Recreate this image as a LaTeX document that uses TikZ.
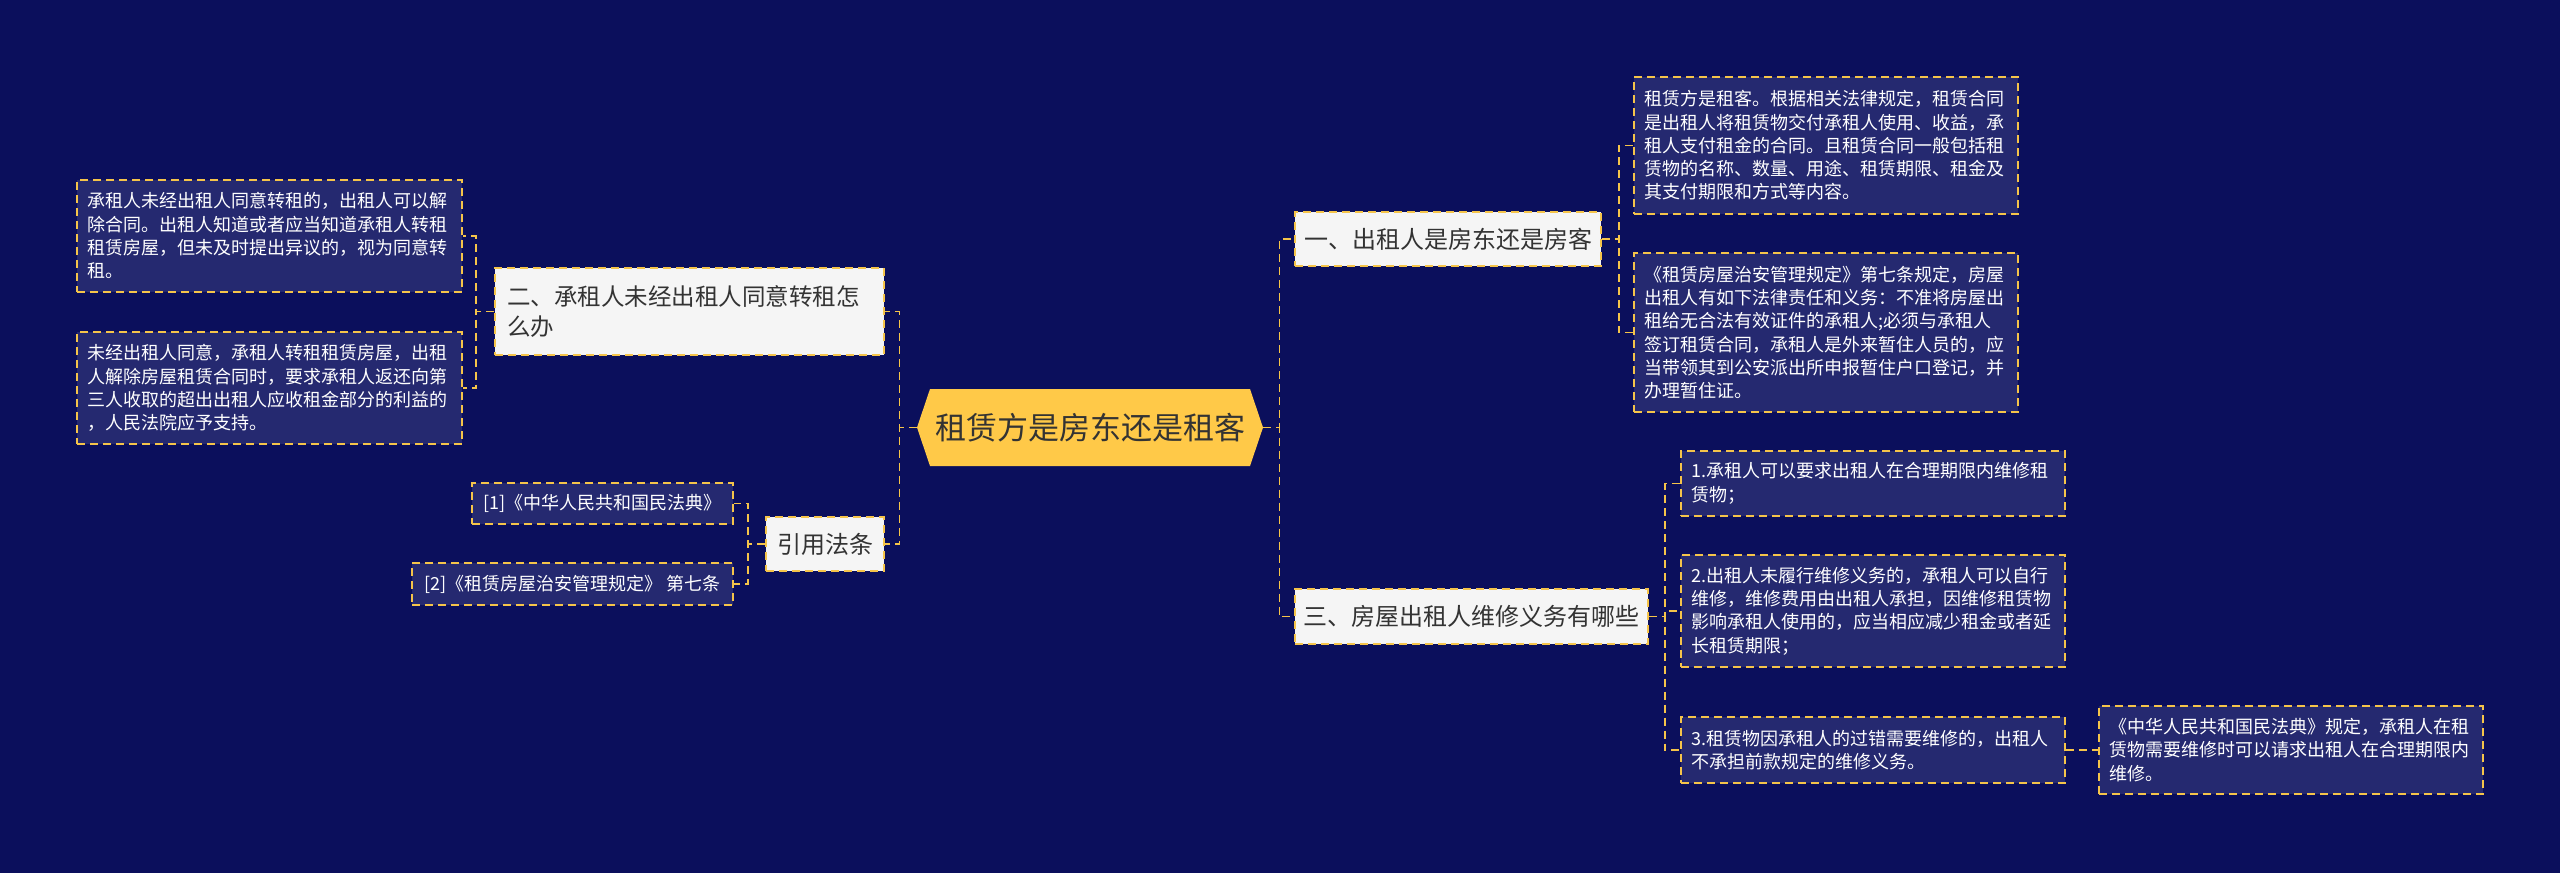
\documentclass[tikz,border=0pt]{standalone}
\usepackage{fontspec}
\setmainfont{Noto Sans CJK SC}
\definecolor{bg}{RGB}{11,15,92}
\definecolor{leaffill}{RGB}{37,41,112}
\definecolor{gold}{RGB}{245,196,74}
\definecolor{branchfill}{RGB}{245,245,245}
\definecolor{centerfill}{RGB}{255,201,72}
\definecolor{darktext}{RGB}{51,51,51}
\tikzset{
  dashline/.style={draw=gold, line width=0.8pt, dash pattern=on 4pt off 2.5pt},
  leaf/.style={dashline, fill=leaffill, text=white, font=\fontsize{9pt}{11.65pt}\selectfont, align=left, inner xsep=5pt, inner ysep=0pt},
  refbox/.style={dashline, fill=leaffill, text=white, font=\fontsize{9pt}{11.65pt}\selectfont, inner xsep=3pt, inner ysep=0pt},
  branch/.style={dashline, fill=branchfill, text=darktext, inner xsep=3pt, inner ysep=0pt},
  conn/.style={draw=gold, line width=0.8pt, dash pattern=on 4pt off 2.5pt},
}
\begin{document}
\begin{tikzpicture}[x=0.5pt,y=-0.5pt]
\useasboundingbox (0,0) rectangle (2560,873);
\fill[bg] (0,0) rectangle (2560,873);

% center
\fill[centerfill] (917,427.5) -- (930,389) -- (1250,389) -- (1263,427.5) -- (1250,466) -- (930,466) -- cycle;
\node[minimum width=173pt, minimum height=38.5pt, inner sep=0pt, text=darktext, font=\fontsize{15.5pt}{18pt}\selectfont] (c) at (1090,427.5) {租赁方是房东还是租客};

% left branch
\node[branch, inner xsep=6pt, text width=182.5pt, minimum height=43.5pt, align=left, font=\fontsize{11.75pt}{15pt}\selectfont] (L) at (689.5,311.5) {二、承租人未经出租人同意转租怎\\么办};
\node[leaf, text width=182.5pt, minimum height=56pt] (L1) at (269.5,236) {承租人未经出租人同意转租的，出租人可以解\\除合同。出租人知道或者应当知道承租人转租\\租赁房屋，但未及时提出异议的，视为同意转\\租。};
\node[leaf, text width=182.5pt, minimum height=56pt] (L2) at (269.5,388) {未经出租人同意，承租人转租租赁房屋，出租\\人解除房屋租赁合同时，要求承租人返还向第\\三人收取的超出出租人应收租金部分的利益的\\，人民法院应予支持。};

% references
\node[branch, minimum width=59pt, minimum height=27pt, font=\fontsize{12pt}{15pt}\selectfont] (Q) at (825,544) {引用法条};
\node[refbox, minimum width=130.5pt, minimum height=20.5pt] (Q1) at (602.5,503.5) {[1]《中华人民共和国民法典》};
\node[refbox, minimum width=160.5pt, minimum height=21pt] (Q2) at (572.5,584) {[2]《租赁房屋治安管理规定》 第七条};

% right branch 1
\node[branch, minimum width=153pt, minimum height=27pt, font=\fontsize{12pt}{15pt}\selectfont] (R1) at (1448,239) {一、出租人是房东还是房客};
\node[leaf, text width=182pt, minimum height=68.5pt] (R1a) at (1826,145.5) {租赁方是租客。根据相关法律规定，租赁合同\\是出租人将租赁物交付承租人使用、收益，承\\租人支付租金的合同。且租赁合同一般包括租\\赁物的名称、数量、用途、租赁期限、租金及\\其支付期限和方式等内容。};
\node[leaf, text width=182pt, minimum height=79.5pt] (R1b) at (1826,332.5) {《租赁房屋治安管理规定》第七条规定，房屋\\出租人有如下法律责任和义务：不准将房屋出\\租给无合法有效证件的承租人;必须与承租人\\签订租赁合同，承租人是外来暂住人员的，应\\当带领其到公安派出所申报暂住户口登记，并\\办理暂住证。};

% right branch 3
\node[branch, minimum width=176.5pt, minimum height=27.5pt, font=\fontsize{12pt}{15pt}\selectfont] (R3) at (1471.5,616.5) {三、房屋出租人维修义务有哪些};
\node[leaf, text width=182pt, minimum height=32.5pt] (R3a) at (1873,483.5) {1.承租人可以要求出租人在合理期限内维修租\\赁物；};
\node[leaf, text width=182pt, minimum height=56pt] (R3b) at (1873,611) {2.出租人未履行维修义务的，承租人可以自行\\维修，维修费用由出租人承担，因维修租赁物\\影响承租人使用的，应当相应减少租金或者延\\长租赁期限；};
\node[leaf, text width=182pt, minimum height=33pt] (R3c) at (1873,750) {3.租赁物因承租人的过错需要维修的，出租人\\不承担前款规定的维修义务。};
\node[leaf, text width=182pt, minimum height=44pt] (R3d) at (2291,750) {《中华人民共和国民法典》规定，承租人在租\\赁物需要维修时可以请求出租人在合理期限内\\维修。};

% connectors
\draw[conn] (c.west) -- ++(-17,0) |- (L.east);
\draw[conn] (c.west) -- ++(-17,0) |- (Q.east);
\draw[conn] (c.east) -- ++(16,0) |- (R1.west);
\draw[conn] (c.east) -- ++(16,0) |- (R3.west);
\draw[conn] (L.west) -- ++(-18,0) |- (L1.east);
\draw[conn] (L.west) -- ++(-18,0) |- (L2.east);
\draw[conn] (Q.west) -- ++(-17,0) |- (Q1.east);
\draw[conn] (Q.west) -- ++(-17,0) |- (Q2.east);
\draw[conn] (R1.east) -- ++(17,0) |- (R1a.west);
\draw[conn] (R1.east) -- ++(17,0) |- (R1b.west);
\draw[conn] (R3.east) -- ++(16,0) |- (R3a.west);
\draw[conn] (R3.east) -- ++(16,0) |- (R3b.west);
\draw[conn] (R3.east) -- ++(16,0) |- (R3c.west);
\draw[conn] (R3c.east) -- (R3d.west);
\end{tikzpicture}
\end{document}
